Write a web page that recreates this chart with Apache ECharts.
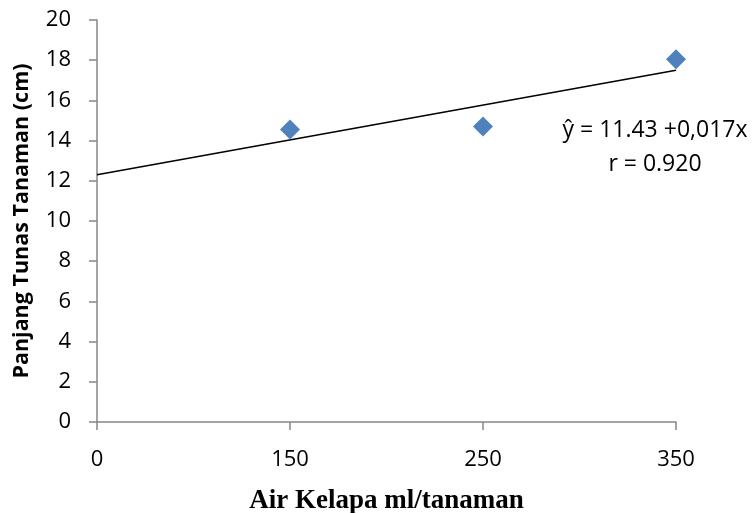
<!DOCTYPE html>
<html>
<head>
<meta charset="utf-8">
<script src="https://cdn.jsdelivr.net/npm/echarts@6/dist/echarts.min.js"></script>
<style>
  html, body { margin: 0; padding: 0; background: #fff; }
  #chart { width: 754px; height: 513px; }
</style>
</head>
<body>
<div id="chart"></div>
<script>
// air kelapa doses (ml/tanaman), shown as evenly spaced categories
const doses = ['0', '150', '250', '350'];
// observed shoot length (cm); no marker at 0
const panjang = [null, 14.55, 14.7, 18.05];
// trend line end points
const trend = [12.3, null, null, 17.5];
const yTicks = { min: 0, max: 20, interval: 2 };

const axisGray = '#868686';
const tickFont = 'Open Sans';

const chart = echarts.init(document.getElementById('chart'));
chart.setOption({
  animation: false,
  grid: { left: 97, right: 78, top: 20, bottom: 91, outerBoundsMode: 'none' },
  xAxis: {
    type: 'category',
    data: doses,
    boundaryGap: false,
    name: 'Air Kelapa ml/tanaman',
    nameLocation: 'middle',
    nameGap: 66,
    nameTextStyle: {
      fontFamily: 'Liberation Serif',
      fontWeight: 'bold',
      fontSize: 27,
      color: '#000'
    },
    axisLine: { lineStyle: { color: axisGray, width: 1.5 } },
    axisTick: { alignWithLabel: true, length: 8, lineStyle: { color: axisGray, width: 1.5 } },
    axisLabel: { margin: 27, fontFamily: tickFont, fontSize: 22, color: '#000' },
    splitLine: { show: false }
  },
  yAxis: {
    type: 'value',
    min: yTicks.min,
    max: yTicks.max,
    interval: yTicks.interval,
    name: 'Panjang Tunas Tanaman (cm)',
    nameLocation: 'middle',
    nameGap: 64,
    nameTextStyle: {
      fontFamily: tickFont,
      fontWeight: 'bold',
      fontSize: 21.5,
      color: '#000'
    },
    axisLine: { show: true, lineStyle: { color: axisGray, width: 1.5 } },
    axisTick: { show: true, length: 8, lineStyle: { color: axisGray, width: 1.5 } },
    axisLabel: { margin: 26, fontFamily: tickFont, fontSize: 22, color: '#000' },
    splitLine: { show: false }
  },
  graphic: [
    {
      type: 'text',
      x: 655,
      y: 113,
      style: {
        text: 'ŷ = 11.43 +0,017x\nr = 0.920',
        textAlign: 'center',
        fontFamily: tickFont,
        fontSize: 23,
        lineHeight: 34,
        fill: '#000'
      }
    }
  ],
  series: [
    {
      type: 'line',
      data: trend,
      connectNulls: true,
      symbol: 'none',
      lineStyle: { color: '#000', width: 1.5 },
      z: 2
    },
    {
      type: 'line',
      data: panjang,
      symbol: 'diamond',
      symbolSize: 20,
      lineStyle: { width: 0 },
      itemStyle: { color: '#4F81BD' },
      z: 3
    }
  ]
});
</script>
</body>
</html>
